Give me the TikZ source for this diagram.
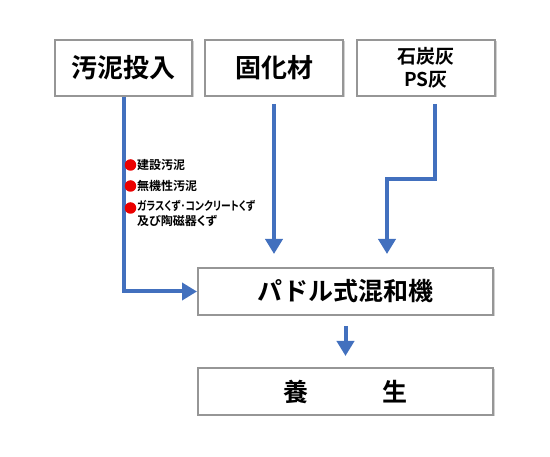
\documentclass[tikz,border=0pt]{standalone}
\usepackage{fontspec}
\setmainfont{Noto Sans CJK JP}[BoldFont={* Bold}]
\newfontfamily\jpp{Noto Sans CJK JP}[BoldFont={* Bold},RawFeature=+palt]
\usetikzlibrary{arrows.meta,shadows,calc}
\definecolor{flowblue}{RGB}{66,112,190}
\definecolor{boxgray}{RGB}{150,150,150}
\definecolor{bulletred}{RGB}{235,0,0}
\tikzset{
  procbox/.style={draw=boxgray, line width=2pt, fill=white, inner sep=0pt,
    drop shadow={shadow xshift=1.5pt, shadow yshift=-1.5pt, fill=black!30, opacity=0.6},
    font=\bfseries, align=center},
  flow/.style={draw=flowblue, line width=4pt, line join=miter,
    -{Triangle[width=17pt,length=15pt]}},
  dotmark/.style={circle, fill=bulletred, inner sep=0pt, minimum size=11.5pt},
  itemtext/.style={anchor=west, inner sep=0pt, font=\jpp\bfseries\fontsize{12}{14.5}\selectfont, align=left}
}
\begin{document}
\begin{tikzpicture}[x=1pt,y=-1pt]
\useasboundingbox (0,0) rectangle (550,457);
% boxes
\node[procbox, minimum width=137pt, minimum height=56pt, font=\bfseries\fontsize{26}{28}\selectfont] (b1) at (123.5,68) {汚泥投入};
\node[procbox, minimum width=138pt, minimum height=56pt, font=\bfseries\fontsize{26}{28}\selectfont] (b2) at (274,68) {固化材};
\node[procbox, minimum width=138pt, minimum height=56pt, font=\bfseries\fontsize{19}{23}\selectfont] (b3) at (426,68) {石炭灰\\PS灰};
\node[procbox, minimum width=295pt, minimum height=47pt, font=\bfseries\fontsize{25}{27}\selectfont] (mix) at (345.5,291.5) {パドル式混和機};
\node[procbox, minimum width=295pt, minimum height=47pt, font=\bfseries\fontsize{25}{27}\selectfont] (cure) at (345.5,391.5) {養　　　生};
% connectors
\draw[flow] (b1.south) |- (mix.west);
\draw[flow, shorten <=7pt, shorten >=13pt] (b2.south) -- (b2.south |- mix.north);
\coordinate (b3s) at ([xshift=9pt,yshift=-7pt]b3.south);
\coordinate (k3) at (387,179);
\draw[flow, shorten >=13pt] (b3s) |- (k3) -- (k3 |- mix.north);
\draw[flow, shorten <=10pt, shorten >=11pt] (mix.south) -- (cure.north);
% bullets
\node[dotmark] (d1) at (130.5,165) {};
\node[dotmark] (d2) at (130.5,186) {};
\node[dotmark] (d3) at (130.5,208) {};
\node[itemtext] (t1) at (137,165) {建設汚泥};
\node[itemtext] (t2) at (137,186) {無機性汚泥};
\node[itemtext, anchor=north west] (t3) at (137,200.5) {\resizebox{118pt}{\height}{ガラスくず･コンクリートくず}\\及び陶磁器くず};
\end{tikzpicture}
\end{document}
